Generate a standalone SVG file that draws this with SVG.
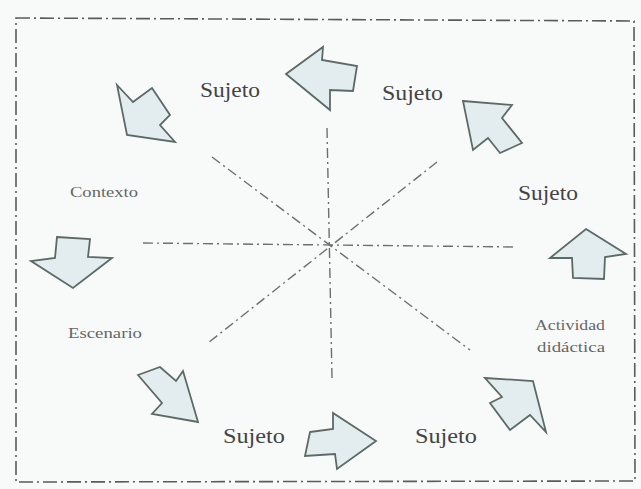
<svg xmlns="http://www.w3.org/2000/svg" width="641" height="489" viewBox="0 0 641 489">
<style>
.frame{fill:none;stroke:#5a5a5a;stroke-width:1.6;stroke-dasharray:14 4 2 4}
.axis{fill:none;stroke:#6e6e6e;stroke-width:1.4;stroke-dasharray:10 4 2 4}
.arrow{fill:#e3ecee;stroke:#5c6a66;stroke-width:1.8;stroke-linejoin:miter}
.big{font-family:"Liberation Serif",serif;font-size:20px;fill:#444}
.small{font-family:"Liberation Serif",serif;font-size:14px;fill:#666}
</style>
<rect width="641" height="489" fill="#f8faf9"/>
<g id="frame">
<path class="frame" d="M16,18 L634,21 L635,481 L16,482 Z"/>
</g>
<g id="connectors">
<line class="axis" x1="143" y1="243" x2="517" y2="247"/>
<line class="axis" x1="327" y1="128" x2="332" y2="378"/>
<line class="axis" x1="212" y1="157" x2="470" y2="350"/>
<line class="axis" x1="437" y1="162" x2="208" y2="343"/>
</g>
<g id="arrow-top">
<polygon class="arrow" points="286,74 323,47 322,60 357,66 353,91 330,90 330,110"/>
</g>
<g id="arrow-top-left">
<polygon class="arrow" points="117,85 133,102 152,88 170,115 160,125 175,142 127,135"/>
</g>
<g id="arrow-top-right">
<polygon class="arrow" points="463,101 512,105 502,118 522,143 500,153 488,138 473,150"/>
</g>
<g id="arrow-left">
<polygon class="arrow" points="57,237 90,239 88,257 112,258 73,288 31,261 55,258"/>
</g>
<g id="arrow-right">
<polygon class="arrow" points="586,229 626,254 605,257 604,279 573,278 572,258 550,258"/>
</g>
<g id="arrow-bottom-left">
<polygon class="arrow" points="138,375 160,367 176,381 183,371 198,422 152,414 162,403"/>
</g>
<g id="arrow-bottom">
<polygon class="arrow" points="310,432 333,429 333,413 376,441 337,469 335,454 305,456"/>
</g>
<g id="arrow-bottom-right">
<polygon class="arrow" points="485,378 533,381 546,432 530,415 510,430 490,403 502,397"/>
</g>
<g id="label-sujeto-1"><text class="big" x="200" y="97" textLength="60" lengthAdjust="spacingAndGlyphs">Sujeto</text></g>
<g id="label-sujeto-2"><text class="big" x="382" y="100" textLength="61" lengthAdjust="spacingAndGlyphs">Sujeto</text></g>
<g id="label-sujeto-3"><text class="big" x="518" y="200" textLength="60" lengthAdjust="spacingAndGlyphs">Sujeto</text></g>
<g id="label-sujeto-4"><text class="big" x="223" y="443" textLength="62" lengthAdjust="spacingAndGlyphs">Sujeto</text></g>
<g id="label-sujeto-5"><text class="big" x="415" y="443" textLength="62" lengthAdjust="spacingAndGlyphs">Sujeto</text></g>
<g id="label-contexto"><text class="small" x="70" y="197" textLength="68" lengthAdjust="spacingAndGlyphs">Contexto</text></g>
<g id="label-escenario"><text class="small" x="68" y="338" textLength="74" lengthAdjust="spacingAndGlyphs">Escenario</text></g>
<g id="label-actividad"><text class="small" x="535" y="330" textLength="70" lengthAdjust="spacingAndGlyphs">Actividad</text><text class="small" x="537" y="352" textLength="68" lengthAdjust="spacingAndGlyphs">didáctica</text></g>
</svg>
